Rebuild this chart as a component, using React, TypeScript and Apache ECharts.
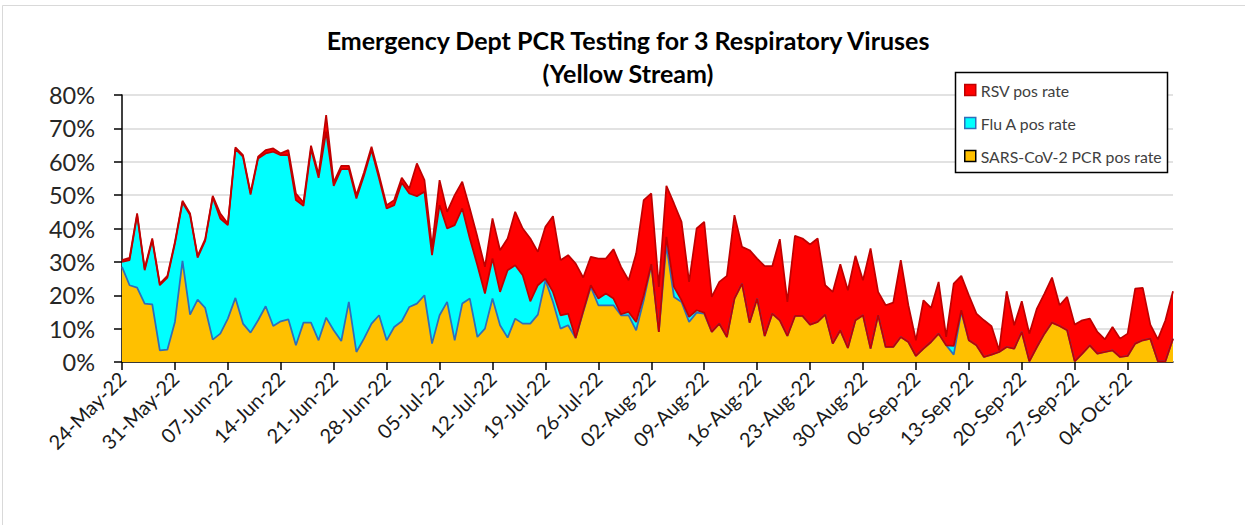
import { useEffect, useRef } from "react";
import * as echarts from "echarts";

// ---- data ----
const START_DATE = [2022, 4, 24]; // 24-May-2022 (month is 0-based)
const DAY_COUNT = 140;
const MONTH_NAMES = ["Jan", "Feb", "Mar", "Apr", "May", "Jun", "Jul", "Aug", "Sep", "Oct", "Nov", "Dec"];

function buildDates(): string[] {
  const out: string[] = [];
  for (let i = 0; i < DAY_COUNT; i++) {
    const d = new Date(Date.UTC(START_DATE[0], START_DATE[1], START_DATE[2] + i));
    const dd = String(d.getUTCDate()).padStart(2, "0");
    out.push(`${dd}-${MONTH_NAMES[d.getUTCMonth()]}-${String(d.getUTCFullYear()).slice(2)}`);
  }
  return out;
}
const categories = buildDates();

// SARS-CoV-2 PCR pos rate (%)
const sarsCov2 = [
  28.5, 23, 22.3, 17.5, 17.3, 3.5, 3.7, 12, 30.3, 14.2,
  18.7, 16.2, 6.7, 8.5, 13, 19.2, 11.5, 8.8, 12.5, 16.7,
  10.8, 12.2, 12.8, 5, 11.8, 11.8, 6.5, 13.3, 9.5, 6.3,
  18, 3, 7, 11.5, 14, 6.5, 10.5, 12.2, 16.5, 17.5,
  20, 5.5, 14, 18, 6.5, 17.5, 19, 7.5, 10, 19,
  11, 7.3, 13, 11.5, 11.5, 14.2, 24.5, 18, 10, 11,
  7.2, 15, 22.5, 17, 17, 17, 14, 14, 9.5, 18.5,
  29, 9, 35, 19.5, 18, 12, 14.8, 14.5, 9, 11.5,
  7.5, 19, 23.5, 11.8, 19, 7.8, 14.5, 12.5, 7.8, 13.8,
  13.8, 11.2, 12, 14.2, 5.5, 9.5, 4.2, 12.5, 14, 4,
  14, 4.5, 4.5, 7.5, 6, 1.8, 4, 6, 8.5, 5,
  2.2, 15, 6.5, 5, 1.5, 2.2, 3, 4.5, 4, 9,
  0.2, 4.5, 8.5, 11.8, 10.8, 9.5, 0.2, 2.5, 5, 2.5,
  3, 3.5, 1.5, 1.8, 5.5, 6.5, 7, 0.2, 0.2, 7,
];

// Flu A pos rate (%)
const fluA = [
  1.5, 7.5, 21.7, 10, 19.2, 19.5, 21.6, 23.5, 17.5, 29.8,
  12.6, 20.1, 42.6, 34.5, 28, 44.6, 50, 41.4, 48.5, 45.8,
  52.2, 49.8, 49.2, 43.5, 35, 52, 48.7, 55.7, 43.3, 51.5,
  39.8, 46, 48.8, 52, 41, 39.5, 36.5, 41.5, 34, 32.2,
  31, 26.5, 33, 22, 34.5, 28.5, 18, 21.5, 10.5, 12,
  10, 20.2, 16, 14.5, 6.7, 8.8, 0.5, 3, 4, 3.5,
  0, 0.3, 0.5, 2, 3.5, 2, 0.3, 1, 2.5, 1.5,
  0.3, 0, 2.5, 3, 0.5, 1.5, 0.7, 0.3, 0, 0,
  0, 0, 0, 0, 0, 0, 0, 0, 0, 0,
  0, 0, 0, 0, 0, 0, 0, 0, 0, 0,
  0, 0, 0, 0, 0, 0, 0, 0, 0, 0,
  2.6, 0.5, 0, 0, 0, 0, 0, 0, 0, 0,
  0, 0, 0, 0, 0, 0, 0, 0, 0, 0,
  0, 0, 0, 0, 0, 0, 0, 0, 0, 0,
];

// RSV pos rate (%)
const rsv = [
  0.5, 0.7, 0.5, 0.5, 0.5, 0.5, 0.5, 0.5, 0.5, 0.5,
  0.5, 0.5, 0.5, 1.5, 0.5, 0.5, 0.5, 0.5, 0.5, 1,
  1, 0.5, 1.5, 2, 1, 1, 1, 5, 1, 1,
  1, 1, 1, 1, 1, 1, 1.5, 1.5, 1.5, 9.8,
  3.5, 2.5, 7.5, 5, 9, 8, 9, 8.5, 8, 12,
  12.5, 9.5, 16, 14, 18.8, 10, 15.5, 22.7, 16.5, 17.5,
  22.3, 10, 8.5, 12, 10.5, 14.8, 14.2, 9.5, 20.5, 28.5,
  21.2, 13.5, 15.3, 25, 23.5, 10.5, 24.5, 27.2, 10.5, 12.5,
  18.3, 25, 11, 21.7, 12, 20.9, 14.2, 24.3, 10.2, 24,
  23.2, 24, 25, 8.8, 15.5, 19.8, 17.3, 19.3, 10.5, 30,
  7, 12.5, 13.3, 23, 11, 4.7, 14.5, 10.2, 15.5, 2.5,
  18.7, 10.3, 13.5, 9.5, 11, 8.5, 0.5, 16.7, 7, 9.2,
  8.3, 11.5, 12, 13.5, 6.2, 10, 11, 10, 8, 6.5,
  3.8, 7, 5.5, 6.7, 16.5, 15.7, 4.2, 6.6, 12.3, 14.2,
];

const SERIES_NAMES = ["SARS-CoV-2 PCR pos rate", "Flu A pos rate", "RSV pos rate"];
const TITLE_LINES = ["Emergency Dept PCR Testing for 3 Respiratory Viruses", "(Yellow Stream)"];
const Y_MIN = 0;
const Y_MAX = 80;
const Y_STEP = 10;

const FONT = "Lato, 'Open Sans', 'DejaVu Sans', sans-serif";

export default function App() {
  const ref = useRef<HTMLDivElement>(null);

  useEffect(() => {
    if (!ref.current) return;
    const chart = echarts.init(ref.current, undefined, { renderer: "svg" });

    const fills = ["#FFC000", "#00FFFF", "#FF0000"];
    const lines = ["#2F6EBA", "#C00000", "#C00000"];
    const values = [sarsCov2, fluA, rsv];

    const titleStyle = (text: string) => ({
      text,
      fontSize: 25,
      fontWeight: "bold",
      fontFamily: FONT,
      fill: "#000",
      align: "center",
      verticalAlign: "middle",
      textAlign: "center",
      textVerticalAlign: "middle",
    });

    chart.setOption({
      animation: false,
      backgroundColor: "#FFFFFF",
      textStyle: { fontFamily: FONT },
      grid: { left: 122, right: 72, top: 95, bottom: 163, containLabel: false },
      xAxis: {
        type: "category",
        data: categories,
        boundaryGap: false,
        axisLine: { show: true, lineStyle: { color: "#000", width: 1.5 } },
        axisTick: { show: true, interval: 6, length: 8, lineStyle: { color: "#000", width: 1.5 } },
        axisLabel: { interval: 6, rotate: 45, fontSize: 20, color: "#1a1a1a", margin: 13, fontFamily: FONT },
        splitLine: { show: false },
      },
      yAxis: {
        type: "value",
        min: Y_MIN,
        max: Y_MAX,
        interval: Y_STEP,
        axisLine: { show: true, lineStyle: { color: "#000", width: 1.5 } },
        axisTick: { show: true, length: 8, lineStyle: { color: "#000", width: 1.5 } },
        axisLabel: { formatter: "{value}%", fontSize: 23.5, color: "#262626", margin: 27, fontFamily: FONT },
        splitLine: { show: true, lineStyle: { color: "#D9D9D9", width: 1.5 } },
      },
      legend: {
        orient: "vertical",
        left: 955,
        top: 72,
        padding: [10, 10, 9, 9],
        itemWidth: 11,
        itemHeight: 11,
        itemGap: 17,
        icon: "rect",
        selectedMode: false,
        textStyle: { fontSize: 15.8, color: "#404040", lineHeight: 16, fontFamily: FONT },
        data: [
          { name: SERIES_NAMES[2], itemStyle: { color: fills[2], borderColor: "#C00000", borderWidth: 1.5 } },
          { name: SERIES_NAMES[1], itemStyle: { color: fills[1], borderColor: "#2F6EBA", borderWidth: 1.5 } },
          { name: SERIES_NAMES[0], itemStyle: { color: fills[0], borderColor: "#000000", borderWidth: 1.5 } },
        ],
      },
      graphic: [
        {
          type: "rect",
          z: 0,
          silent: true,
          shape: { x: 2.5, y: 5.5, width: 1400, height: 800 },
          style: { fill: "none", stroke: "#D9D9D9", lineWidth: 1 },
        },
        {
          type: "rect",
          z: 3,
          silent: true,
          shape: { x: 955.5, y: 72.5, width: 212, height: 100 },
          style: { fill: "#FFFFFF", stroke: "#000000", lineWidth: 1.5 },
        },
        { type: "text", z: 5, x: 628, y: 40, style: titleStyle(TITLE_LINES[0]) },
        { type: "text", z: 5, x: 628, y: 73, style: titleStyle(TITLE_LINES[1]) },
      ],
      series: SERIES_NAMES.map((name, i) => ({
        name,
        type: "line",
        stack: "total",
        data: values[i],
        showSymbol: false,
        symbol: "none",
        color: fills[i],
        lineStyle: { color: lines[i], width: 1.75 },
        areaStyle: { color: fills[i], opacity: 1 },
        emphasis: { disabled: true },
      })),
    });

    return () => chart.dispose();
  }, []);

  return (
    <div
      ref={ref}
      style={{ position: "absolute", left: 0, top: 0, width: 1245, height: 525 }}
    />
  );
}
